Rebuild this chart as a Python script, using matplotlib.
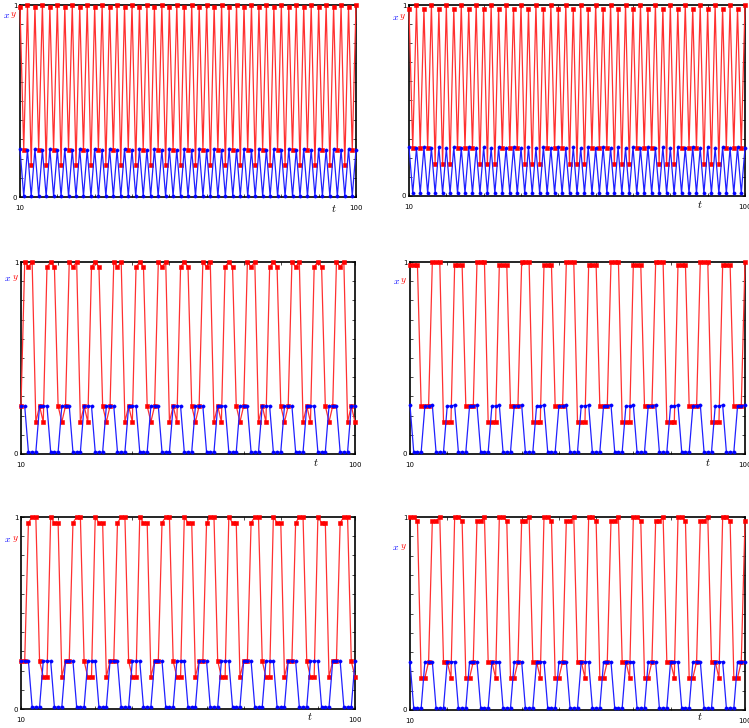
import numpy as np
import matplotlib
matplotlib.use("Agg")
import matplotlib.pyplot as plt
from matplotlib.ticker import MultipleLocator

plt.rcParams['mathtext.fontset'] = 'cm'

# time steps shown on every panel
t = np.arange(10, 101)

# panel 1 (top left)
red_a = [
    0.99, 0.245, 1.0, 0.167, 0.99, 0.245, 1.0, 0.167,
    0.99, 0.245, 1.0, 0.167, 0.99, 0.245, 1.0, 0.167,
    0.99, 0.245, 1.0, 0.167, 0.99, 0.245, 1.0, 0.167,
    0.99, 0.245, 1.0, 0.167, 0.99, 0.245, 1.0, 0.167,
    0.99, 0.245, 1.0, 0.167, 0.99, 0.245, 1.0, 0.167,
    0.99, 0.245, 1.0, 0.167, 0.99, 0.245, 1.0, 0.167,
    0.99, 0.245, 1.0, 0.167, 0.99, 0.245, 1.0, 0.167,
    0.99, 0.245, 1.0, 0.167, 0.99, 0.245, 1.0, 0.167,
    0.99, 0.245, 1.0, 0.167, 0.99, 0.245, 1.0, 0.167,
    0.99, 0.245, 1.0, 0.167, 0.99, 0.245, 1.0, 0.167,
    0.99, 0.245, 1.0, 0.167, 0.99, 0.245, 1.0, 0.167,
    0.99, 0.245, 1.0,
]
blue_a = [
    0.25, 0.005, 0.245, 0.005, 0.25, 0.005, 0.245, 0.005,
    0.25, 0.005, 0.245, 0.005, 0.25, 0.005, 0.245, 0.005,
    0.25, 0.005, 0.245, 0.005, 0.25, 0.005, 0.245, 0.005,
    0.25, 0.005, 0.245, 0.005, 0.25, 0.005, 0.245, 0.005,
    0.25, 0.005, 0.245, 0.005, 0.25, 0.005, 0.245, 0.005,
    0.25, 0.005, 0.245, 0.005, 0.25, 0.005, 0.245, 0.005,
    0.25, 0.005, 0.245, 0.005, 0.25, 0.005, 0.245, 0.005,
    0.25, 0.005, 0.245, 0.005, 0.25, 0.005, 0.245, 0.005,
    0.25, 0.005, 0.245, 0.005, 0.25, 0.005, 0.245, 0.005,
    0.25, 0.005, 0.245, 0.005, 0.25, 0.005, 0.245, 0.005,
    0.25, 0.005, 0.245, 0.005, 0.25, 0.005, 0.245, 0.005,
    0.25, 0.005, 0.245,
]

# panel 2 (top right)
red_b = [
    0.98, 0.25, 1.0, 0.25, 0.98, 0.25, 1.0, 0.168, 0.98, 0.168, 1.0, 0.168,
    0.98, 0.25, 1.0, 0.25, 0.98, 0.25, 1.0, 0.168, 0.98, 0.168, 1.0, 0.168,
    0.98, 0.25, 1.0, 0.25, 0.98, 0.25, 1.0, 0.168, 0.98, 0.168, 1.0, 0.168,
    0.98, 0.25, 1.0, 0.25, 0.98, 0.25, 1.0, 0.168, 0.98, 0.168, 1.0, 0.168,
    0.98, 0.25, 1.0, 0.25, 0.98, 0.25, 1.0, 0.168, 0.98, 0.168, 1.0, 0.168,
    0.98, 0.25, 1.0, 0.25, 0.98, 0.25, 1.0, 0.168, 0.98, 0.168, 1.0, 0.168,
    0.98, 0.25, 1.0, 0.25, 0.98, 0.25, 1.0, 0.168, 0.98, 0.168, 1.0, 0.168,
    0.98, 0.25, 1.0, 0.25, 0.98, 0.25, 1.0,
]
blue_b = [
    0.255, 0.015, 0.25, 0.015, 0.255, 0.015, 0.25, 0.015, 0.255, 0.015, 0.25, 0.015,
    0.255, 0.015, 0.25, 0.015, 0.255, 0.015, 0.25, 0.015, 0.255, 0.015, 0.25, 0.015,
    0.255, 0.015, 0.25, 0.015, 0.255, 0.015, 0.25, 0.015, 0.255, 0.015, 0.25, 0.015,
    0.255, 0.015, 0.25, 0.015, 0.255, 0.015, 0.25, 0.015, 0.255, 0.015, 0.25, 0.015,
    0.255, 0.015, 0.25, 0.015, 0.255, 0.015, 0.25, 0.015, 0.255, 0.015, 0.25, 0.015,
    0.255, 0.015, 0.25, 0.015, 0.255, 0.015, 0.25, 0.015, 0.255, 0.015, 0.25, 0.015,
    0.255, 0.015, 0.25, 0.015, 0.255, 0.015, 0.25, 0.015, 0.255, 0.015, 0.25, 0.015,
    0.255, 0.015, 0.25, 0.015, 0.255, 0.015, 0.25,
]

# panel 3 (middle left)
red_c = [
    0.25, 1.0, 0.975, 1.0, 0.167, 0.25,
    0.167, 0.975, 1.0, 0.975, 0.25, 0.167,
    0.25, 1.0, 0.975, 1.0, 0.167, 0.25,
    0.167, 0.975, 1.0, 0.975, 0.25, 0.167,
    0.25, 1.0, 0.975, 1.0, 0.167, 0.25,
    0.167, 0.975, 1.0, 0.975, 0.25, 0.167,
    0.25, 1.0, 0.975, 1.0, 0.167, 0.25,
    0.167, 0.975, 1.0, 0.975, 0.25, 0.167,
    0.25, 1.0, 0.975, 1.0, 0.167, 0.25,
    0.167, 0.975, 1.0, 0.975, 0.25, 0.167,
    0.25, 1.0, 0.975, 1.0, 0.167, 0.25,
    0.167, 0.975, 1.0, 0.975, 0.25, 0.167,
    0.25, 1.0, 0.975, 1.0, 0.167, 0.25,
    0.167, 0.975, 1.0, 0.975, 0.25, 0.167,
    0.25, 1.0, 0.975, 1.0, 0.167, 0.25,
    0.167,
]
blue_c = [
    0.25, 0.25, 0.01, 0.01, 0.01, 0.25,
    0.25, 0.25, 0.01, 0.01, 0.01, 0.25,
    0.25, 0.25, 0.01, 0.01, 0.01, 0.25,
    0.25, 0.25, 0.01, 0.01, 0.01, 0.25,
    0.25, 0.25, 0.01, 0.01, 0.01, 0.25,
    0.25, 0.25, 0.01, 0.01, 0.01, 0.25,
    0.25, 0.25, 0.01, 0.01, 0.01, 0.25,
    0.25, 0.25, 0.01, 0.01, 0.01, 0.25,
    0.25, 0.25, 0.01, 0.01, 0.01, 0.25,
    0.25, 0.25, 0.01, 0.01, 0.01, 0.25,
    0.25, 0.25, 0.01, 0.01, 0.01, 0.25,
    0.25, 0.25, 0.01, 0.01, 0.01, 0.25,
    0.25, 0.25, 0.01, 0.01, 0.01, 0.25,
    0.25, 0.25, 0.01, 0.01, 0.01, 0.25,
    0.25, 0.25, 0.01, 0.01, 0.01, 0.25,
    0.25,
]

# panel 4 (middle right)
red_d = [
    0.985, 0.985, 0.985, 0.25, 0.25, 0.25, 1.0, 1.0, 1.0, 0.165, 0.165, 0.165,
    0.985, 0.985, 0.985, 0.25, 0.25, 0.25, 1.0, 1.0, 1.0, 0.165, 0.165, 0.165,
    0.985, 0.985, 0.985, 0.25, 0.25, 0.25, 1.0, 1.0, 1.0, 0.165, 0.165, 0.165,
    0.985, 0.985, 0.985, 0.25, 0.25, 0.25, 1.0, 1.0, 1.0, 0.165, 0.165, 0.165,
    0.985, 0.985, 0.985, 0.25, 0.25, 0.25, 1.0, 1.0, 1.0, 0.165, 0.165, 0.165,
    0.985, 0.985, 0.985, 0.25, 0.25, 0.25, 1.0, 1.0, 1.0, 0.165, 0.165, 0.165,
    0.985, 0.985, 0.985, 0.25, 0.25, 0.25, 1.0, 1.0, 1.0, 0.165, 0.165, 0.165,
    0.985, 0.985, 0.985, 0.25, 0.25, 0.25, 1.0,
]
blue_d = [
    0.255, 0.01, 0.01, 0.01, 0.25, 0.25,
    0.255, 0.01, 0.01, 0.01, 0.25, 0.25,
    0.255, 0.01, 0.01, 0.01, 0.25, 0.25,
    0.255, 0.01, 0.01, 0.01, 0.25, 0.25,
    0.255, 0.01, 0.01, 0.01, 0.25, 0.25,
    0.255, 0.01, 0.01, 0.01, 0.25, 0.25,
    0.255, 0.01, 0.01, 0.01, 0.25, 0.25,
    0.255, 0.01, 0.01, 0.01, 0.25, 0.25,
    0.255, 0.01, 0.01, 0.01, 0.25, 0.25,
    0.255, 0.01, 0.01, 0.01, 0.25, 0.25,
    0.255, 0.01, 0.01, 0.01, 0.25, 0.25,
    0.255, 0.01, 0.01, 0.01, 0.25, 0.25,
    0.255, 0.01, 0.01, 0.01, 0.25, 0.25,
    0.255, 0.01, 0.01, 0.01, 0.25, 0.25,
    0.255, 0.01, 0.01, 0.01, 0.25, 0.25,
    0.255,
]

# panel 5 (bottom left)
red_e = [
    0.25, 0.25, 0.97, 1.0, 1.0, 0.25,
    0.167, 0.167, 1.0, 0.97, 0.97, 0.167,
    0.25, 0.25, 0.97, 1.0, 1.0, 0.25,
    0.167, 0.167, 1.0, 0.97, 0.97, 0.167,
    0.25, 0.25, 0.97, 1.0, 1.0, 0.25,
    0.167, 0.167, 1.0, 0.97, 0.97, 0.167,
    0.25, 0.25, 0.97, 1.0, 1.0, 0.25,
    0.167, 0.167, 1.0, 0.97, 0.97, 0.167,
    0.25, 0.25, 0.97, 1.0, 1.0, 0.25,
    0.167, 0.167, 1.0, 0.97, 0.97, 0.167,
    0.25, 0.25, 0.97, 1.0, 1.0, 0.25,
    0.167, 0.167, 1.0, 0.97, 0.97, 0.167,
    0.25, 0.25, 0.97, 1.0, 1.0, 0.25,
    0.167, 0.167, 1.0, 0.97, 0.97, 0.167,
    0.25, 0.25, 0.97, 1.0, 1.0, 0.25,
    0.167,
]
blue_e = [
    0.25, 0.25, 0.25, 0.01, 0.01, 0.01,
    0.25, 0.25, 0.25, 0.01, 0.01, 0.01,
    0.25, 0.25, 0.25, 0.01, 0.01, 0.01,
    0.25, 0.25, 0.25, 0.01, 0.01, 0.01,
    0.25, 0.25, 0.25, 0.01, 0.01, 0.01,
    0.25, 0.25, 0.25, 0.01, 0.01, 0.01,
    0.25, 0.25, 0.25, 0.01, 0.01, 0.01,
    0.25, 0.25, 0.25, 0.01, 0.01, 0.01,
    0.25, 0.25, 0.25, 0.01, 0.01, 0.01,
    0.25, 0.25, 0.25, 0.01, 0.01, 0.01,
    0.25, 0.25, 0.25, 0.01, 0.01, 0.01,
    0.25, 0.25, 0.25, 0.01, 0.01, 0.01,
    0.25, 0.25, 0.25, 0.01, 0.01, 0.01,
    0.25, 0.25, 0.25, 0.01, 0.01, 0.01,
    0.25, 0.25, 0.25, 0.01, 0.01, 0.01,
    0.25,
]

# panel 6 (bottom right)
red_f = [
    1.0, 1.0, 0.98, 0.167, 0.167, 0.25,
    0.98, 0.98, 1.0, 0.25, 0.25, 0.167,
    1.0, 1.0, 0.98, 0.167, 0.167, 0.25,
    0.98, 0.98, 1.0, 0.25, 0.25, 0.167,
    1.0, 1.0, 0.98, 0.167, 0.167, 0.25,
    0.98, 0.98, 1.0, 0.25, 0.25, 0.167,
    1.0, 1.0, 0.98, 0.167, 0.167, 0.25,
    0.98, 0.98, 1.0, 0.25, 0.25, 0.167,
    1.0, 1.0, 0.98, 0.167, 0.167, 0.25,
    0.98, 0.98, 1.0, 0.25, 0.25, 0.167,
    1.0, 1.0, 0.98, 0.167, 0.167, 0.25,
    0.98, 0.98, 1.0, 0.25, 0.25, 0.167,
    1.0, 1.0, 0.98, 0.167, 0.167, 0.25,
    0.98, 0.98, 1.0, 0.25, 0.25, 0.167,
    1.0, 1.0, 0.98, 0.167, 0.167, 0.25,
    0.98,
]
blue_f = [
    0.25, 0.01, 0.01, 0.01, 0.25, 0.25,
    0.25, 0.01, 0.01, 0.01, 0.25, 0.25,
    0.25, 0.01, 0.01, 0.01, 0.25, 0.25,
    0.25, 0.01, 0.01, 0.01, 0.25, 0.25,
    0.25, 0.01, 0.01, 0.01, 0.25, 0.25,
    0.25, 0.01, 0.01, 0.01, 0.25, 0.25,
    0.25, 0.01, 0.01, 0.01, 0.25, 0.25,
    0.25, 0.01, 0.01, 0.01, 0.25, 0.25,
    0.25, 0.01, 0.01, 0.01, 0.25, 0.25,
    0.25, 0.01, 0.01, 0.01, 0.25, 0.25,
    0.25, 0.01, 0.01, 0.01, 0.25, 0.25,
    0.25, 0.01, 0.01, 0.01, 0.25, 0.25,
    0.25, 0.01, 0.01, 0.01, 0.25, 0.25,
    0.25, 0.01, 0.01, 0.01, 0.25, 0.25,
    0.25, 0.01, 0.01, 0.01, 0.25, 0.25,
    0.25,
]

W, H = 749, 728

# pixel boxes (left, top, right, bottom), label spots in pixels
panels = [
    (red_a, blue_a, (20, 5, 356, 197), (6.5, 14.5), (334, 208)),
    (red_b, blue_b, (409, 5, 745, 196), (395.5, 17.5), (700, 205)),
    (red_c, blue_c, (21, 262, 355, 454), (8, 278), (316, 462)),
    (red_d, blue_d, (410, 262, 745, 454), (396.5, 281), (708, 462)),
    (red_e, blue_e, (21, 517, 355, 709), (8, 539), (310, 717)),
    (red_f, blue_f, (410, 517, 745, 710), (396, 547.5), (700, 717)),
]

fig = plt.figure(figsize=(W / 100, H / 100), dpi=100)

for red, blue, box, lab, tpos in panels:
    l, top, r, b = box
    ax = fig.add_axes([l / W, 1 - b / H, (r - l) / W, (b - top) / H])
    ax.plot(t, red, color='#ff3030', lw=0.9, marker='s', ms=2.3, mew=0.4,
            mec='red', mfc='red', clip_on=False, zorder=3)
    ax.plot(t, blue, color='#2020ff', lw=0.9, marker='o', ms=2.3, mew=0.4,
            mec='blue', mfc='blue', clip_on=False, zorder=4)
    ax.set_xlim(10, 100)
    ax.set_ylim(0, 1)
    ax.set_xticks([10, 100])
    ax.set_xticklabels(['10', '100'])
    ax.set_yticks([0, 1])
    ax.set_yticklabels(['0', '1'])
    ax.xaxis.set_minor_locator(MultipleLocator(10))
    ax.yaxis.set_minor_locator(MultipleLocator(0.1))
    ax.tick_params(which='both', direction='in', length=2, width=0.5,
                   top=True, right=True)
    ax.tick_params(axis='x', labelsize=5, pad=6)
    ax.tick_params(axis='y', labelsize=5, pad=2)
    for sp in ax.spines.values():
        sp.set_linewidth(1.2)

    # "x y" label left of the axes
    fig.text(lab[0] / W, 1 - lab[1] / H, '$x$', color='blue', fontsize=7,
             ha='center', va='center')
    fig.text((lab[0] + 7) / W, 1 - lab[1] / H, '$y$', color='red', fontsize=7,
             ha='center', va='center')
    fig.text(tpos[0] / W, 1 - tpos[1] / H, '$t$', fontsize=8,
             ha='center', va='center')

fig.savefig('out.png', dpi=100)
